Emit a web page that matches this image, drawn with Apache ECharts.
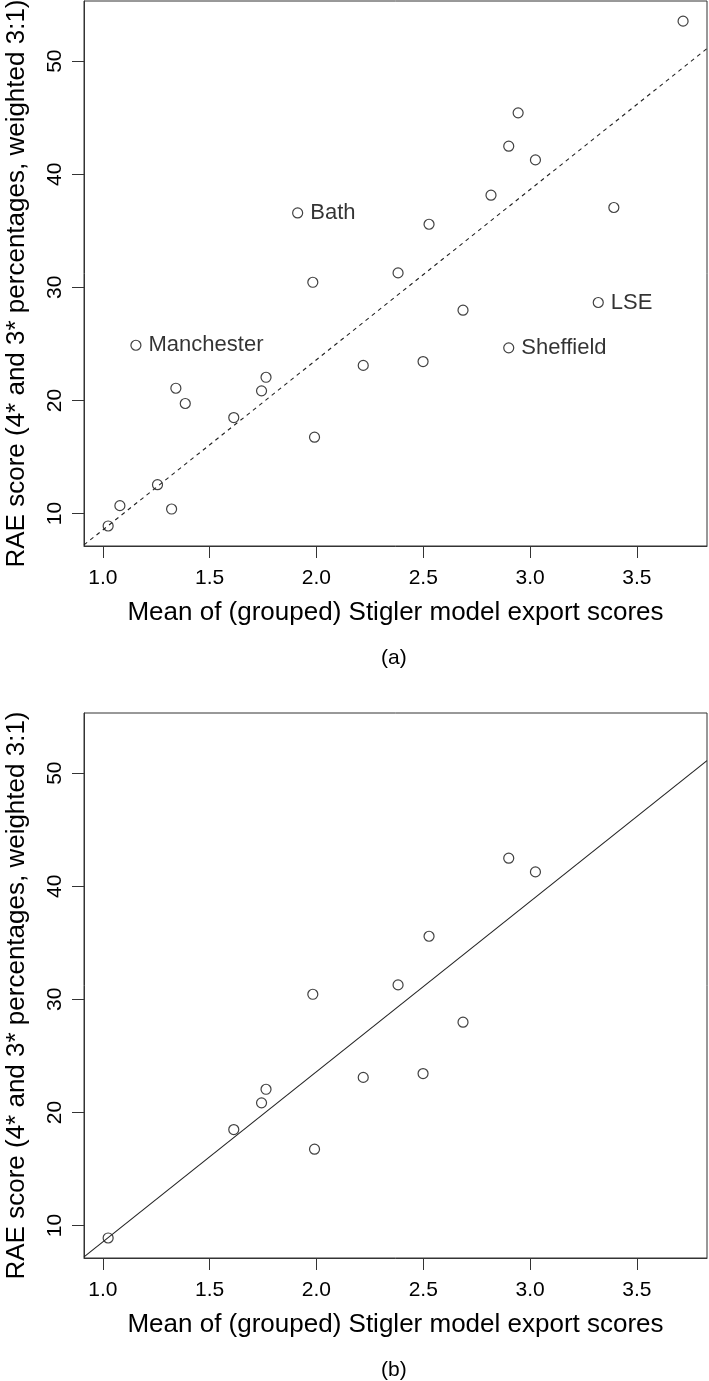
<!DOCTYPE html>
<html><head><meta charset="utf-8">
<script src="https://cdn.jsdelivr.net/npm/echarts@6/dist/echarts.min.js"></script>
<style>html,body{margin:0;padding:0;background:#fff}#c{width:709px;height:1381px}</style>
</head><body><div id="c"></div>
<script>
// ---- data ----
const xTicks = [1.0, 1.5, 2.0, 2.5, 3.0, 3.5];
const yTicks = [10, 20, 30, 40, 50];
const xLimits = [0.912, 3.828];
const yLimits = [7.13, 55.32];

// panel (a): all institutions
const xA = [1.025, 1.080, 1.155, 1.256, 1.322, 1.342, 1.386, 1.613, 1.743, 1.764, 1.912, 1.983, 1.991, 2.219, 2.382, 2.499, 2.527, 2.686, 2.817, 2.900, 2.900, 2.944, 3.025, 3.319, 3.392, 3.716];
const yA = [8.90, 10.70, 24.88, 12.55, 10.40, 21.08, 19.73, 18.49, 20.85, 22.05, 36.58, 30.45, 16.75, 23.10, 31.28, 23.44, 35.58, 27.98, 38.15, 24.65, 42.48, 45.43, 41.27, 28.66, 37.06, 53.54];
const namesA = ['', '', 'Manchester', '', '', '', '', '', '', '', 'Bath', '', '', '', '', '', '', '', '', 'Sheffield', '', '', '', 'LSE', '', ''];

// panel (b): subset
const xB = [1.025, 1.613, 1.743, 1.764, 1.983, 1.991, 2.219, 2.382, 2.499, 2.527, 2.686, 2.900, 3.025];
const yB = [8.90, 18.49, 20.85, 22.05, 30.45, 16.75, 23.10, 31.28, 23.44, 35.58, 27.98, 42.48, 41.27];

// fitted line (y = a + b x)
const fitIntercept = -6.5;
const fitSlope = 15.05;

const xTitle = 'Mean of (grouped) Stigler model export scores';
const yTitle = 'RAE score (4* and 3* percentages, weighted 3:1)';
const panelLabels = ['(a)', '(b)'];

// ---- chart ----
const FONT = "'Liberation Sans', Arial, Helvetica, sans-serif";
const INK = '#000';
const AX = '#333';

function xAxis(gi) {
  return {
    type: 'value', gridIndex: gi, min: xLimits[0], max: xLimits[1],
    splitLine: { show: false },
    axisLine: { show: true, onZero: false, lineStyle: { color: AX, width: 1 } },
    axisTick: { show: true, inside: false, length: 12, customValues: xTicks, lineStyle: { color: AX, width: 1 } },
    axisLabel: { customValues: xTicks, formatter: v => v.toFixed(1), fontSize: 21, color: INK, fontFamily: FONT, margin: 22 },
    name: xTitle, nameLocation: 'middle', nameGap: 54,
    nameTextStyle: { fontSize: 26, color: INK, fontFamily: FONT }
  };
}
function yAxis(gi) {
  return {
    type: 'value', gridIndex: gi, min: yLimits[0], max: yLimits[1],
    splitLine: { show: false },
    axisLine: { show: true, onZero: false, lineStyle: { color: AX, width: 1 } },
    axisTick: { show: true, inside: false, length: 12, customValues: yTicks, lineStyle: { color: AX, width: 1 } },
    axisLabel: { customValues: yTicks, rotate: 90, fontSize: 21, color: INK, fontFamily: FONT, margin: 18 },
    name: yTitle, nameLocation: 'middle', nameGap: 54, nameRotate: 90,
    nameTextStyle: { fontSize: 26, color: INK, fontFamily: FONT, padding: [0, 20, 0, 0] }
  };
}
function pointStyle() {
  return { color: 'rgba(0,0,0,0)', borderColor: '#111', borderWidth: 1.2 };
}
function fitData() {
  return xLimits.map(x => [x, fitIntercept + fitSlope * x]);
}

const chart = echarts.init(document.getElementById('c'), null, { renderer: 'canvas' });
chart.setOption({
  animation: false,
  backgroundColor: '#fff',
  grid: [
    { left: 84, top: 1, width: 623, height: 545, show: true, borderColor: AX, borderWidth: 1, backgroundColor: 'transparent', outerBoundsMode: 'none', containLabel: false },
    { left: 84, top: 713, width: 623, height: 545, show: true, borderColor: AX, borderWidth: 1, backgroundColor: 'transparent', outerBoundsMode: 'none', containLabel: false }
  ],
  xAxis: [xAxis(0), xAxis(1)],
  yAxis: [yAxis(0), yAxis(1)],
  graphic: [
    { type: 'text', left: 381, top: 648, style: { text: panelLabels[0], fontSize: 21, fill: INK, fontFamily: FONT } },
    { type: 'text', left: 381, top: 1360, style: { text: panelLabels[1], fontSize: 21, fill: INK, fontFamily: FONT } }
  ],
  series: [
    {
      type: 'line', xAxisIndex: 0, yAxisIndex: 0, data: fitData(), symbol: 'none', silent: true, clip: true,
      lineStyle: { color: '#222', width: 1.1, type: [4, 4] }
    },
    {
      type: 'scatter', xAxisIndex: 0, yAxisIndex: 0, symbol: 'circle', symbolSize: 10,
      itemStyle: pointStyle(),
      label: { show: false, position: 'right', distance: 7, fontSize: 22, color: INK, fontFamily: FONT },
      data: xA.map((x, i) => ({ value: [x, yA[i]], label: { show: namesA[i] !== '', formatter: namesA[i] } }))
    },
    {
      type: 'line', xAxisIndex: 1, yAxisIndex: 1, data: fitData(), symbol: 'none', silent: true, clip: true,
      lineStyle: { color: '#222', width: 1.1 }
    },
    {
      type: 'scatter', xAxisIndex: 1, yAxisIndex: 1, symbol: 'circle', symbolSize: 10,
      itemStyle: pointStyle(),
      data: xB.map((x, i) => [x, yB[i]])
    }
  ]
});
</script>
</body></html>
